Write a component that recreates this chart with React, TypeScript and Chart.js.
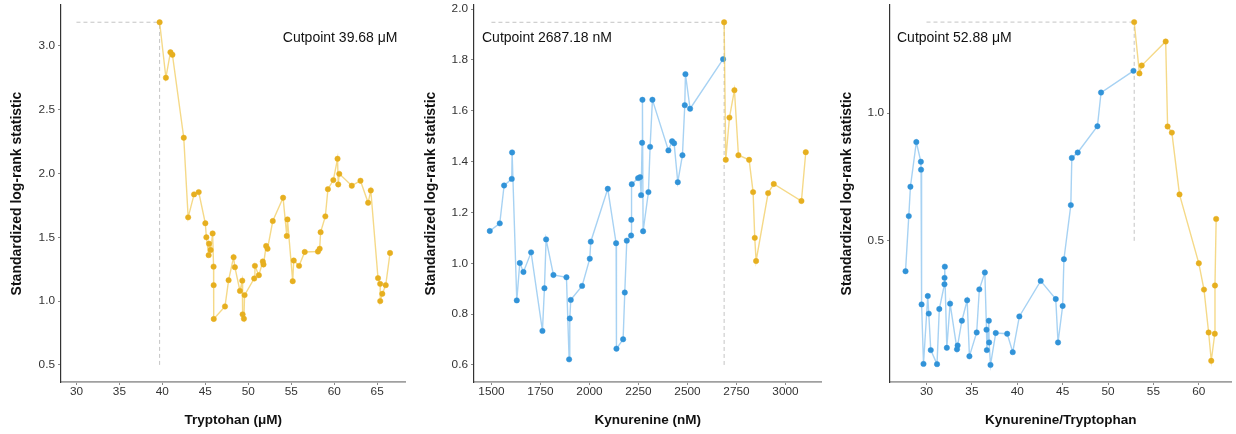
import React, { useEffect, useRef } from "react";
import { Chart, registerables } from "chart.js";

Chart.register(...registerables);

const FONT = '"Liberation Sans", Arial, Helvetica, sans-serif';

// ---------- Panel 1: Tryptophan (all points at/after cutpoint) ----------
const trpCut = 39.68;
const trpX = [
  39.68, 40.41, 40.94, 41.17, 42.49, 43.0, 43.69, 44.23, 45.0, 45.12, 45.39, 45.43, 45.62, 45.85,
  45.96, 45.97, 45.98, 47.29, 47.71, 48.29, 48.44, 49.03, 49.3, 49.34, 49.49, 49.57, 50.69, 50.77,
  51.23, 51.69, 51.77, 52.08, 52.24, 52.85, 54.05, 54.48, 54.56, 55.17, 55.29, 55.91, 56.57, 58.11,
  58.31, 58.42, 58.97, 59.27, 59.9, 60.39, 60.47, 60.59, 62.05, 63.06, 63.95, 64.26, 65.1, 65.35,
  65.36, 65.6, 66.0, 66.5,
];
const trpY = [
  3.185, 2.75, 2.95, 2.93, 2.28, 1.656, 1.836, 1.854, 1.61, 1.5, 1.36, 1.45, 1.4, 1.53,
  1.27, 1.125, 0.86, 0.958, 1.164, 1.344, 1.266, 1.08, 1.16, 0.896, 0.862, 1.047, 1.177, 1.276,
  1.203, 1.31, 1.287, 1.432, 1.41, 1.627, 1.81, 1.51, 1.64, 1.156, 1.318, 1.276, 1.385, 1.388,
  1.41, 1.54, 1.664, 1.877, 1.948, 2.115, 1.914, 1.997, 1.904, 1.943, 1.77, 1.867, 1.18, 1.135,
  1.0, 1.057, 1.125, 1.377,
];
const trpXTicks = [30, 35, 40, 45, 50, 55, 60, 65];
const trpYTicks = [0.5, 1.0, 1.5, 2.0, 2.5, 3.0];

// ---------- Panel 2: Kynurenine ----------
const kynCut = 2687.18;
const kynLowX = [
  1491.5, 1542.5, 1564.6, 1603.7, 1605.4, 1629.3, 1644.6, 1663.3, 1702.4, 1760.2, 1770.4, 1778.9,
  1816.3, 1882.7, 1896.3, 1899.7, 1904.8, 1962.6, 2001.7, 2006.8, 2093.5, 2136.1, 2137.8, 2171.8,
  2180.3, 2190.5, 2212.6, 2213.6, 2216.0, 2248.3, 2258.5, 2263.6, 2268.7, 2270.4, 2273.8, 2301.0,
  2309.5, 2321.4, 2403.0, 2421.8, 2432.0, 2450.7, 2474.5, 2486.4, 2489.8, 2513.6, 2682.0,
];
const kynLowY = [
  1.127, 1.157, 1.306, 1.332, 1.436, 0.854, 1.001, 0.966, 1.043, 0.734, 0.902, 1.094,
  0.954, 0.945, 0.622, 0.783, 0.856, 0.911, 1.018, 1.085, 1.293, 1.079, 0.664, 0.701,
  0.885, 1.089, 1.109, 1.171, 1.311, 1.335, 1.339, 1.268, 1.474, 1.643, 1.126, 1.28,
  1.458, 1.643, 1.444, 1.48, 1.472, 1.319, 1.425, 1.622, 1.744, 1.608, 1.803,
];
const kynHighX = [
  2687.18, 2695.6, 2714.3, 2739.8, 2760.2, 2814.6, 2835.0, 2843.5, 2850.3, 2911.6, 2940.5, 3081.6, 3103.7,
];
const kynHighY = [
  1.948, 1.407, 1.573, 1.681, 1.425, 1.407, 1.28, 1.1, 1.009, 1.276, 1.312, 1.245, 1.437,
];
const kynXTicks = [1500, 1750, 2000, 2250, 2500, 2750, 3000];
const kynYTicks = [0.6, 0.8, 1.0, 1.2, 1.4, 1.6, 1.8, 2.0];

// ---------- Panel 3: Kynurenine/Tryptophan ----------
const ratioCut = 52.88;
const ratioLowX = [
  27.69, 28.05, 28.23, 28.88, 29.38, 29.4, 29.46, 29.67, 30.14, 30.25, 30.47, 31.16, 31.41, 31.98,
  31.99, 32.02, 32.24, 32.6, 33.36, 33.43, 33.9, 34.48, 34.73, 35.53, 35.82, 36.43, 36.61, 36.65,
  36.87, 36.9, 37.05, 37.63, 38.89, 39.5, 40.23, 42.58, 44.24, 44.49, 45.0, 45.14, 45.9, 46.01,
  46.66, 48.83, 49.23, 52.8,
];
const ratioLowY = [
  0.381, 0.597, 0.712, 0.887, 0.81, 0.779, 0.251, 0.018, 0.284, 0.215, 0.072, 0.017, 0.233, 0.33,
  0.355, 0.399, 0.081, 0.254, 0.075, 0.09, 0.187, 0.267, 0.048, 0.141, 0.31, 0.376, 0.152, 0.072,
  0.187, 0.102, 0.014, 0.139, 0.136, 0.064, 0.204, 0.343, 0.272, 0.102, 0.245, 0.428, 0.64, 0.825,
  0.846, 0.949, 1.081, 1.166,
];
const ratioHighX = [52.88, 53.46, 53.71, 56.35, 56.56, 57.03, 57.87, 60.0, 60.57, 61.08, 61.37, 61.76, 61.78, 61.91];
const ratioHighY = [1.357, 1.156, 1.187, 1.281, 0.948, 0.924, 0.682, 0.412, 0.309, 0.141, 0.03, 0.136, 0.325, 0.586];
const ratioXTicks = [30, 35, 40, 45, 50, 55, 60];
const ratioYTicks = [0.5, 1.0];

// ---------- styling ----------
const ORANGE_PT = "#E6AF1F";
const ORANGE_LN = "rgba(240,196,72,0.65)";
const BLUE_PT = "#3193D8";
const BLUE_LN = "rgba(120,186,236,0.65)";

const zip = (xs: number[], ys: number[]) => xs.map((x, i) => ({ x, y: ys[i] }));

type PanelCfg = {
  left: number;
  width: number;
  yWidth: number;
  padRight: number;
  yTitlePad: number;
  xTitle: string;
  xMin: number;
  xMax: number;
  yMin: number;
  yMax: number;
  xTicks: number[];
  yTicks: number[];
  yDecimals: number;
  low?: { x: number[]; y: number[] };
  high: { x: number[]; y: number[] };
  cut: number;
  label: string;
  labelAlign: "left" | "right";
  labelInset: number;
};

const panels: PanelCfg[] = [
  {
    left: 0, width: 410, yWidth: 61, padRight: 4, yTitlePad: 8.3,
    xTitle: "Tryptohan (\u03bcM)",
    xMin: 28.2, xMax: 68.3, yMin: 0.366, yMax: 3.32,
    xTicks: trpXTicks, yTicks: trpYTicks, yDecimals: 1,
    high: { x: trpX, y: trpY },
    cut: trpCut, label: "Cutpoint 39.68 \u03bcM", labelAlign: "right", labelInset: 8,
  },
  {
    left: 412, width: 414, yWidth: 62, padRight: 4, yTitlePad: 10.9,
    xTitle: "Kynurenine (nM)",
    xMin: 1411, xMax: 3184, yMin: 0.533, yMax: 2.016,
    xTicks: kynXTicks, yTicks: kynYTicks, yDecimals: 1,
    low: { x: kynLowX, y: kynLowY },
    high: { x: kynHighX, y: kynHighY },
    cut: kynCut, label: "Cutpoint 2687.18 nM", labelAlign: "left", labelInset: 8,
  },
  {
    left: 828, width: 408, yWidth: 62, padRight: 0, yTitlePad: 10.3,
    xTitle: "Kynurenine/Tryptophan",
    xMin: 25.98, xMax: 63.6, yMin: -0.053, yMax: 1.424,
    xTicks: ratioXTicks, yTicks: ratioYTicks, yDecimals: 1,
    low: { x: ratioLowX, y: ratioLowY },
    high: { x: ratioHighX, y: ratioHighY },
    cut: ratioCut, label: "Cutpoint 52.88 \u03bcM", labelAlign: "left", labelInset: 7,
  },
];

const cutLabelPlugin = {
  id: "cutLabel",
  afterDatasetsDraw(chart: any, _args: any, opts: any) {
    const { ctx, chartArea } = chart;
    ctx.save();
    ctx.font = `14px ${FONT}`;
    ctx.fillStyle = "#111111";
    ctx.textBaseline = "middle";
    ctx.textAlign = opts.align;
    const x = opts.align === "right" ? chartArea.right - opts.inset : chartArea.left + opts.inset;
    ctx.fillText(opts.text, x, chartArea.top + 33);
    ctx.restore();
  },
};

function Panel({ cfg }: { cfg: PanelCfg }) {
  const ref = useRef<HTMLCanvasElement>(null);

  useEffect(() => {
    if (!ref.current) return;
    const highPts = zip(cfg.high.x, cfg.high.y);
    const peakY = cfg.high.y[0];
    const datasets: any[] = [];
    datasets.push({
      data: highPts,
      showLine: true,
      borderColor: ORANGE_LN,
      borderWidth: 1.4,
      pointBackgroundColor: ORANGE_PT,
      pointBorderColor: ORANGE_PT,
      pointBorderWidth: 0.5,
      pointRadius: 2.7,
    });
    if (cfg.low) {
      datasets.push({
        data: zip(cfg.low.x, cfg.low.y),
        showLine: true,
        borderColor: BLUE_LN,
        borderWidth: 1.4,
        pointBackgroundColor: BLUE_PT,
        pointBorderColor: BLUE_PT,
        pointBorderWidth: 0.5,
        pointRadius: 2.7,
      });
    }
    const refStyle = {
      showLine: true,
      borderColor: "#c4c4c4",
      borderWidth: 1,
      borderDash: [4, 3],
      pointRadius: 0,
    };
    datasets.push({
      ...refStyle,
      data: [
        { x: cfg.xTicks[0], y: peakY },
        { x: cfg.cut, y: peakY },
      ],
    });
    datasets.push({
      ...refStyle,
      data: [
        { x: cfg.cut, y: cfg.yTicks[0] },
        { x: cfg.cut, y: peakY },
      ],
    });

    const tickFont = { family: FONT, size: 11.8 };
    const chart = new Chart(ref.current, {
      type: "scatter",
      data: { datasets },
      plugins: [cutLabelPlugin as any],
      options: {
        animation: false,
        responsive: false,
        devicePixelRatio: 1,
        layout: { padding: { left: 0, right: cfg.padRight, top: 5, bottom: 0 } },
        plugins: {
          legend: { display: false },
          tooltip: { enabled: false },
          cutLabel: { text: cfg.label, align: cfg.labelAlign, inset: cfg.labelInset },
        } as any,
        scales: {
          x: {
            type: "linear",
            min: cfg.xMin,
            max: cfg.xMax,
            afterBuildTicks: (s: any) => {
              s.ticks = cfg.xTicks.map((v) => ({ value: v }));
            },
            afterFit: (s: any) => {
              s.height = 52;
              s.paddingLeft = 0;
              s.paddingRight = 0;
            },
            ticks: {
              font: tickFont,
              color: "#333333",
              padding: 0,
              maxRotation: 0,
              autoSkip: false,
              callback: (v: any) => String(v),
            },
            grid: {
              display: true,
              drawOnChartArea: false,
              drawTicks: true,
              tickLength: 3,
              tickColor: "#8a8a8a",
              tickWidth: 1,
            },
            border: { display: true, color: "#a0a0a0", width: 1.8 },
            title: {
              display: true,
              text: cfg.xTitle,
              color: "#111111",
              font: { family: FONT, size: 13.5, weight: "bold" },
              padding: { top: 0, bottom: 5.2 },
            },
          },
          y: {
            type: "linear",
            min: cfg.yMin,
            max: cfg.yMax,
            afterBuildTicks: (s: any) => {
              s.ticks = cfg.yTicks.map((v) => ({ value: v }));
            },
            afterFit: (s: any) => {
              s.width = cfg.yWidth;
              s.paddingTop = 0;
              s.paddingBottom = 0;
            },
            ticks: {
              font: tickFont,
              color: "#333333",
              padding: 3,
              autoSkip: false,
              callback: (v: any) => Number(v).toFixed(cfg.yDecimals),
            },
            grid: {
              display: true,
              drawOnChartArea: false,
              drawTicks: true,
              tickLength: 3,
              tickColor: "#8a8a8a",
              tickWidth: 1,
            },
            border: { display: true, color: "#333333", width: 1.2 },
            title: {
              display: true,
              text: "Standardized log-rank statistic",
              color: "#111111",
              font: { family: FONT, size: 14, weight: "bold" },
              padding: { top: cfg.yTitlePad, bottom: 0 },
            },
          },
        },
      } as any,
    });
    return () => chart.destroy();
  }, [cfg]);

  return (
    <canvas
      ref={ref}
      width={cfg.width}
      height={434}
      style={{ position: "absolute", left: cfg.left, top: 0, width: cfg.width, height: 434 }}
    />
  );
}

export default function App() {
  return (
    <div
      style={{
        position: "fixed",
        left: 0,
        top: 0,
        width: 1236,
        height: 434,
        background: "#ffffff",
        overflow: "hidden",
      }}
    >
      {panels.map((p, i) => (
        <Panel key={i} cfg={p} />
      ))}
    </div>
  );
}
